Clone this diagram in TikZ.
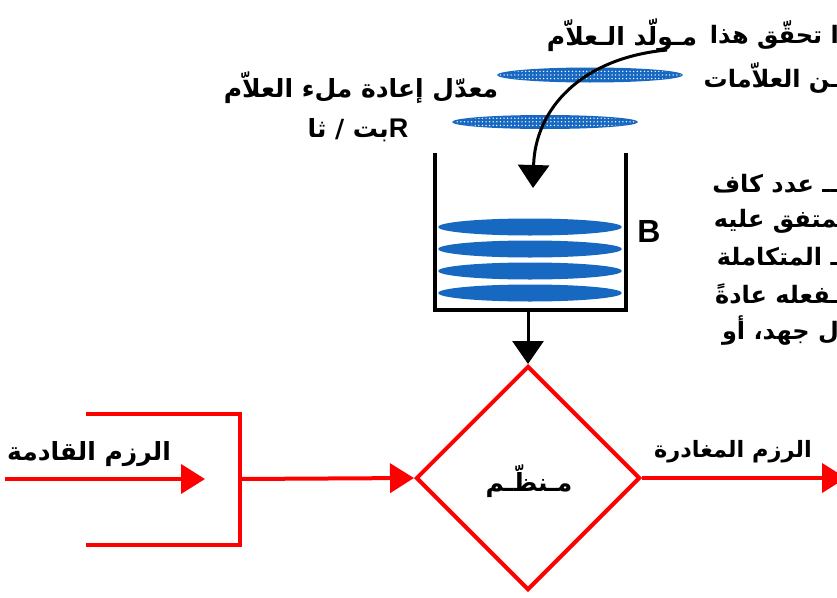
\documentclass[tikz,border=0pt]{standalone}
\usepackage{fontspec}
\setmainfont{Liberation Sans}
\newfontfamily\arabicfont[Script=Arabic]{DejaVu Sans}
\TeXXeTstate=1
\usetikzlibrary{shapes.geometric,arrows.meta,patterns.meta}
\definecolor{tokblue}{RGB}{22,104,192}
\definecolor{pktred}{RGB}{255,0,0}
\newcommand\artxt[1]{{\arabicfont\bfseries\beginR #1\endR}}
\tikzset{
  lbl/.style={inner sep=0pt, font=\fontsize{25}{28}\selectfont},
  para/.style={inner sep=0pt, anchor=east, font=\fontsize{24}{27}\selectfont},
  blackarrow/.style={draw=black, line width=3pt, -{Triangle[width=31pt,length=23pt]}},
  redline/.style={draw=pktred, line width=4pt},
  redarrow/.style={redline, -{Triangle[width=29pt,length=24pt]}},
  tokfill/.style={fill=tokblue},
  tokdots/.style={pattern={Dots[distance=3.6pt, radius=0.75pt]}, pattern color=white},
}
\begin{document}
\begin{tikzpicture}[x=1pt,y=-1pt]
\useasboundingbox (0,0) rectangle (837,597);
\fill[white] (0,0) rectangle (837,597);
\clip (0,0) rectangle (837,597);

% token generator ellipses
\fill[tokfill] (590,75) ellipse [x radius=93pt, y radius=7.5pt];
\fill[tokdots] (590,75) ellipse [x radius=91pt, y radius=6pt];
\fill[tokfill] (545,122) ellipse [x radius=93pt, y radius=7pt];
\fill[tokdots] (545,122) ellipse [x radius=91pt, y radius=5.5pt];

% bucket tokens
\foreach \yy in {227,249,271,293}
  \fill[tokfill] (530,\yy) ellipse [x radius=92pt, y radius=8.5pt];

% bucket
\draw[line width=4pt] (435,153) -- (435,310) -- (626,310) -- (626,153);
\coordinate (bucketout) at (528,310);

% regulator
\node[diamond, aspect=1, draw=pktred, line width=4pt, inner sep=0pt,
      minimum width=224pt, minimum height=224pt] (reg) at (528,478) {};
\node[lbl] (regtxt) at (529,481) {\artxt{مـنظّـم}};

% generator curve
\coordinate (genfoot) at (667,50);
\coordinate (drop) at (533,188);
\draw[blackarrow] (genfoot) .. controls (580,58) and (535,110) .. (drop);
\draw[blackarrow] (bucketout) -- (reg.north);

% incoming packets
\coordinate (inL) at (5,479);
\coordinate (inR) at (205,479);
\draw[redarrow] (inL) -- (inR);
\coordinate (bt1) at (86,414);
\coordinate (bt2) at (240,414);
\coordinate (bb2) at (240,545);
\coordinate (bb1) at (86,545);
\coordinate (bm) at (240,479);
\draw[redline] (bt1) -- (bt2) -- (bb2) -- (bb1);
\draw[redarrow] (bm) -- (reg.west);
\coordinate (outR) at (846,478);
\draw[redarrow] (reg.east) -- (outR);

% labels
\node[lbl] (lgen) at (622,35) {\artxt{مـولّد الـعلاّم}};
\node[lbl] (lrate) at (361,88) {\artxt{معدّل إعادة ملء العلاّم}};
\node[lbl] (lunit) at (358,130) {\artxt{{\normalfont\bfseries\fontsize{27}{28}\selectfont R}بت / ثا}};
\node[inner sep=0pt, font=\bfseries\fontsize{32}{34}\selectfont] (lB) at (649,231) {B};
\node[lbl] (lin) at (89,454) {\artxt{الرزم القادمة}};
\node[lbl, font=\fontsize{22.5}{26}\selectfont] (lout) at (733,452) {\artxt{الرزم المغادرة}};

% clipped paragraph on the right
\node[para] (p1) at (839,35) {\artxt{ا تحقّق هذا}};
\node[para] (p2) at (839,78) {\artxt{ـن العلاّمات}};
\node[para] (p3) at (839,184) {\artxt{ــ عدد كاف}};
\node[para] (p4) at (855,221) {\artxt{المتفق عليه}};
\node[para] (p5) at (839,257) {\artxt{ـ المتكاملة}};
\node[para] (p6) at (839,294) {\artxt{ـفعله عادةً}};
\node[para] (p7) at (839,331) {\artxt{ل جهد، أو}};
\end{tikzpicture}
\end{document}
